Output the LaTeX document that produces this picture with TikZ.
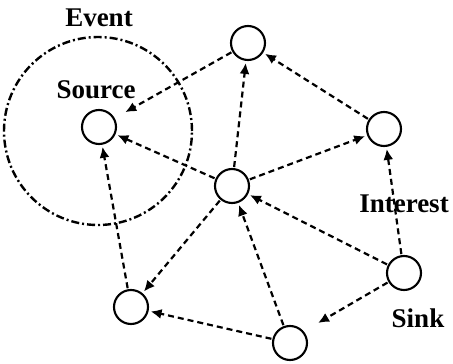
\documentclass[tikz,border=0pt]{standalone}
\usepackage{fontspec}
\setmainfont{Liberation Serif}
\usetikzlibrary{arrows.meta}
\begin{document}
\begin{tikzpicture}[x=1pt,y=-1pt,
 nd/.style={circle,draw,line width=2.1pt,minimum size=34pt,inner sep=0pt},
 ar/.style={line width=2.2pt,dash pattern=on 6pt off 4pt,-{Latex[length=11pt,width=10pt]},shorten >=2pt,shorten <=1pt},
 lb/.style={font=\bfseries\fontsize{27}{30}\selectfont,anchor=base,inner sep=0pt}]
\useasboundingbox (0,0) rectangle (453,364);
\node[circle,draw,line width=2.4pt,dash pattern=on 8pt off 3pt on 2pt off 3pt,minimum size=188pt,inner sep=0pt] (ev) at (98,131) {};
\node[nd] (S) at (99,127) {};
\node[nd] (T) at (248,43) {};
\node[nd] (R) at (384,129) {};
\node[nd] (C) at (232,186) {};
\node[nd] (K) at (404,273) {};
\node[nd] (B) at (290,343) {};
\node[nd] (L) at (131,307) {};
\coordinate (kb) at (318,323);
\node[lb] (tev) at (99,27) {Event};
\node[lb] (tso) at (96,98) {Source};
\node[lb] (tin) at (404,212) {Interest};
\node[lb] (tsi) at (418,327) {Sink};
\draw[ar,shorten >=12pt] (T) -- (S);
\draw[ar] (R) -- (T);
\draw[ar] (C) -- (T);
\draw[ar] (C) -- (R);
\draw[ar] (C) -- (S);
\draw[ar] (K) -- (C);
\draw[ar] (K) -- (R);
\draw[ar] (L) -- (S);
\draw[ar] (C) -- (L);
\draw[ar] (B) -- (L);
\draw[ar] (B) -- (C);
\draw[ar,shorten >=0pt] (K) -- (kb);
\end{tikzpicture}
\end{document}
